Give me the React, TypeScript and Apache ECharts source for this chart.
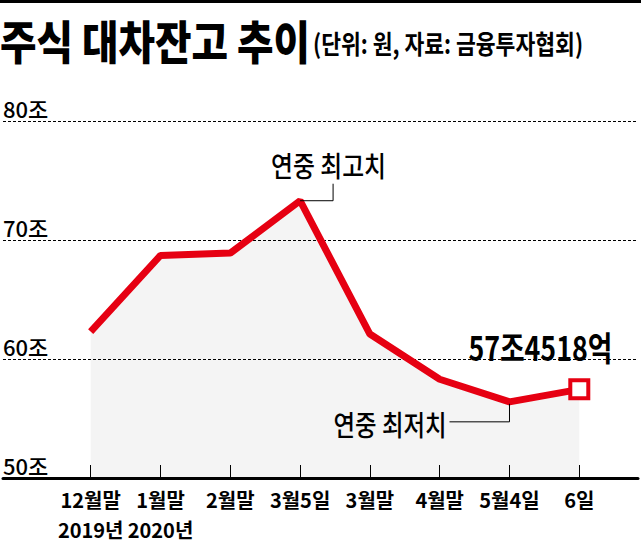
import React, { useEffect, useRef } from 'react';
import * as echarts from 'echarts';

// 주식 대차잔고 (단위: 조원)
const categories = ['12월말\n2019년', '1월말\n2020년', '2월말', '3월5일', '3월말', '4월말', '5월4일', '6일'];
const balances = [62.3, 68.7, 68.9, 73.3, 62.1, 58.3, 56.4, 57.45];
const yTicks = { min: 50, max: 80, step: 10 };

const titleText = '주식 대차잔고 추이';
const subtitleText = '(단위: 원, 자료: 금융투자협회)';
const peakText = '연중 최고치';
const lowText = '연중 최저치';
const lastText = '57조4518억';
const peakIndex = 3;
const lowIndex = 6;
const lastIndex = 7;

const RED = '#e60012';
const FONT = '"Noto Sans CJK KR", "Noto Sans", sans-serif';

// the paper uses a condensed gothic, so texts are squeezed to their measured width
const measureCtx = document.createElement('canvas').getContext('2d') as CanvasRenderingContext2D;
const fitScale = (text: string, size: number, weight: string | number, width: number) => {
  measureCtx.font = `${weight} ${size}px ${FONT}`;
  return width / measureCtx.measureText(text).width;
};

const label = (
  text: string,
  x: number,
  y: number,
  size: number,
  weight: string | number,
  width: number,
  align: 'left' | 'right' = 'left'
) => ({
  type: 'text',
  x,
  y,
  scaleX: fitScale(text, size, weight, width),
  z: 10,
  style: {
    text,
    fill: '#000',
    fontSize: size,
    fontWeight: weight,
    fontFamily: FONT,
    align,
    textAlign: align,
    verticalAlign: 'top',
    textVerticalAlign: 'top',
  },
});

const leader = (points: number[][]) => ({
  type: 'polyline',
  z: 10,
  shape: { points },
  style: { stroke: '#000', lineWidth: 1, fill: 'none' },
});

const App: React.FC = () => {
  const chartRef = useRef<HTMLDivElement>(null);

  useEffect(() => {
    if (!chartRef.current) return;
    const chart = echarts.init(chartRef.current, null, { renderer: 'svg' });
    const idx = categories.map((_, i) => i);

    chart.setOption({
      animation: false,
      backgroundColor: '#fff',
      grid: { left: 3, right: 3, top: 121, bottom: 66 },
      xAxis: {
        type: 'value',
        min: -1.256,
        max: 7.841,
        axisLine: { lineStyle: { color: '#000', width: 3 } },
        axisTick: {
          customValues: idx,
          inside: true,
          length: 13,
          lineStyle: { color: '#000', width: 1 },
        },
        axisLabel: {
          customValues: idx,
          formatter: (v: number) => categories[Math.round(v)],
          color: '#000',
          fontSize: 20,
          fontWeight: 'bold',
          fontFamily: FONT,
          lineHeight: 30,
          margin: 6,
        },
        splitLine: { show: false },
      },
      yAxis: {
        type: 'value',
        min: yTicks.min,
        max: yTicks.max,
        interval: yTicks.step,
        axisLine: { show: false },
        axisTick: { show: false },
        axisLabel: {
          inside: true,
          margin: 0,
          verticalAlign: 'bottom',
          padding: [0, 0, 2, 0],
          color: '#000',
          fontSize: 22,
          fontWeight: 500,
          fontFamily: FONT,
          formatter: (v: number) => `${v}조`,
        },
        splitLine: { lineStyle: { color: '#000', width: 1, type: [3, 2] } },
      },
      series: [
        {
          type: 'line',
          data: balances.map((v, i) => [i, v]),
          symbol: 'none',
          lineStyle: { color: RED, width: 7 },
          areaStyle: { color: 'rgba(0,0,0,0.063)', origin: 'start' },
        },
        {
          type: 'scatter',
          data: [[lastIndex, balances[lastIndex]]],
          symbol: 'rect',
          symbolSize: 18,
          itemStyle: { color: '#fff', borderColor: RED, borderWidth: 4, opacity: 1 },
          z: 5,
        },
      ],
    });

    const px = (i: number) => chart.convertToPixel({ seriesIndex: 0 }, [i, balances[i]]) as number[];
    const peak = px(peakIndex);
    const low = px(lowIndex);
    const last = px(lastIndex);

    chart.setOption({
      graphic: [
        { type: 'rect', shape: { x: 0, y: 0, width: 641, height: 3 }, style: { fill: '#000' } },
        label(titleText, 0, 16, 46, 900, 310),
        label(subtitleText, 313, 30, 26, 'bold', 270),
        label(peakText, peak[0] - 29, peak[1] - 50, 28, 500, 115),
        leader([
          [peak[0], peak[1]],
          [peak[0] + 33, peak[1]],
          [peak[0] + 33, peak[1] - 17],
        ]),
        label(lowText, low[0] - 63, low[1] + 8, 28, 500, 113, 'right'),
        leader([
          [low[0], low[1] + 2],
          [low[0], low[1] + 20],
          [low[0] - 60, low[1] + 20],
        ]),
        label(lastText, last[0] + 33, last[1] - 60, 34, 'bold', 144, 'right'),
      ],
    });

    return () => {
      chart.dispose();
    };
  }, []);

  return (
    <div
      ref={chartRef}
      style={{ position: 'absolute', left: 0, top: 0, width: '641px', height: '544px', background: '#fff' }}
    />
  );
};

export default App;
